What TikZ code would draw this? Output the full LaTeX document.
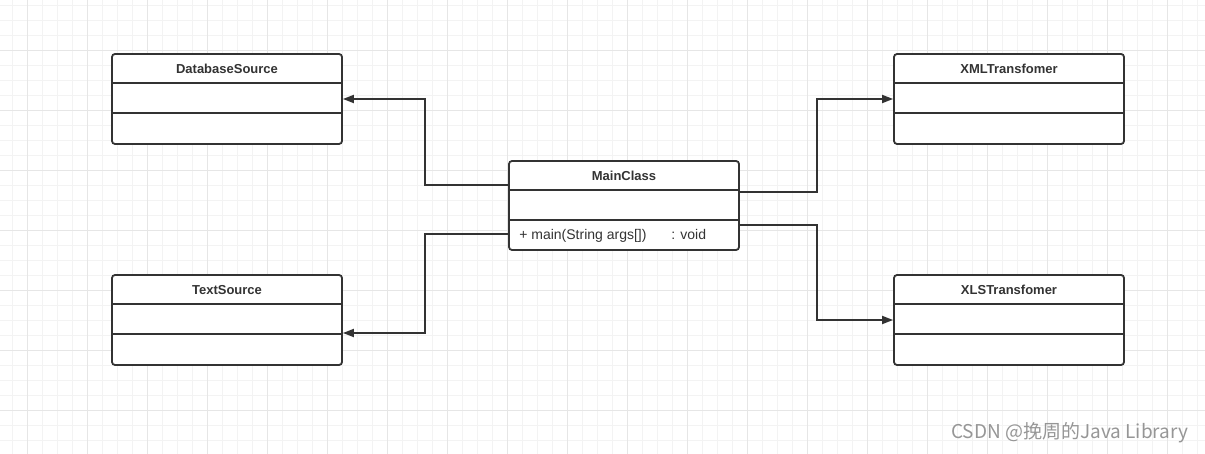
\documentclass[tikz,border=0pt]{standalone}
\usepackage{xcolor}
\usepackage{tikz}
\usepackage{fontspec}
\setmainfont{Liberation Sans}
\newfontfamily\cjk{Noto Sans CJK SC}
\usetikzlibrary{arrows.meta, positioning, calc}
\definecolor{lineDark}{RGB}{51, 51, 51}
\definecolor{gridMinor}{RGB}{243, 243, 243}
\definecolor{gridMajor}{RGB}{230, 230, 230}
\definecolor{markGray}{RGB}{150, 150, 150}

\begin{document}
\begin{tikzpicture}[
    x=1pt, y=-1pt,
    classbox/.style={
        rectangle,
        rounded corners=3pt,
        minimum width=230pt,
        minimum height=90pt,
        draw=lineDark,
        line width=1.8pt,
        fill=white
    },
    classname/.style={
        font=\fontsize{13}{15}\selectfont\bfseries,
        text=lineDark,
        anchor=base,
        inner sep=0pt
    },
    member/.style={
        font=\fontsize{14}{16}\selectfont,
        text=lineDark,
        anchor=base west,
        inner sep=0pt
    },
    divider/.style={
        draw=lineDark,
        line width=1.8pt
    },
    link/.style={
        draw=lineDark,
        line width=1.8pt,
        -{Triangle[length=11pt, width=8pt]}
    },
    watermark/.style={
        font=\cjk\fontsize{19}{22}\selectfont,
        text=markGray,
        anchor=west,
        inner sep=0pt
    }
]
\useasboundingbox (0,0) rectangle (1205,454);
\fill[white] (0,0) rectangle (1205,454);

% Background grid
\foreach \x in {12,27,...,1205} \draw[gridMinor, line width=0.8pt] (\x,0) -- (\x,454);
\foreach \y in {5,20,...,454} \draw[gridMinor, line width=0.8pt] (0,\y) -- (1205,\y);
\foreach \x in {27,87,...,1205} \draw[gridMajor, line width=0.8pt] (\x,0) -- (\x,454);
\foreach \y in {50,110,...,454} \draw[gridMajor, line width=0.8pt] (0,\y) -- (1205,\y);

% Left column - sources
\node[classbox] (db) at (227,99) {};
\node[classname] (dbname) at ([yshift=-20pt]db.north) {DatabaseSource};
\node[classbox] (ts) at (227,320) {};
\node[classname] (tsname) at ([yshift=-20pt]ts.north) {TextSource};

% Middle - main class
\node[classbox, minimum height=89pt] (main) at (624,205.5) {};
\node[classname] (mainname) at ([yshift=-20pt]main.north) {MainClass};
\node[member] (mainop) at ([xshift=11pt, yshift=-79pt]main.north west) {+ main(String args[])};
\node[member] (mainret) at ([xshift=163pt, yshift=-79pt]main.north west) {: void};

% Right column - transformers
\node[classbox] (xml) at (1009,99) {};
\node[classname] (xmlname) at ([yshift=-20pt]xml.north) {XMLTransfomer};
\node[classbox] (xls) at (1009,320) {};
\node[classname] (xlsname) at ([yshift=-20pt]xls.north) {XLSTransfomer};

% Compartment lines
\foreach \c in {db,ts,main,xml,xls} {
    \draw[divider] ([yshift=-30pt]\c.north west) -- ([yshift=-30pt]\c.north east);
    \draw[divider] ([yshift=-60pt]\c.north west) -- ([yshift=-60pt]\c.north east);
}

% Connecting arrows
\draw[link] ([yshift=-25pt]main.north west) -- ++(-83pt,0pt) |- (db.east);
\draw[link] ([yshift=-74pt]main.north west) -- ++(-83pt,0pt) |- ([yshift=-13pt]ts.east);
\draw[link] ([yshift=-32pt]main.north east) -- ++(77pt,0pt) |- (xml.west);
\draw[link] ([yshift=-65pt]main.north east) -- ++(77pt,0pt) |- (xls.west);

\node[watermark] (mark) at (951,433) {CSDN @挽周的Java Library};

\end{tikzpicture}
\end{document}
